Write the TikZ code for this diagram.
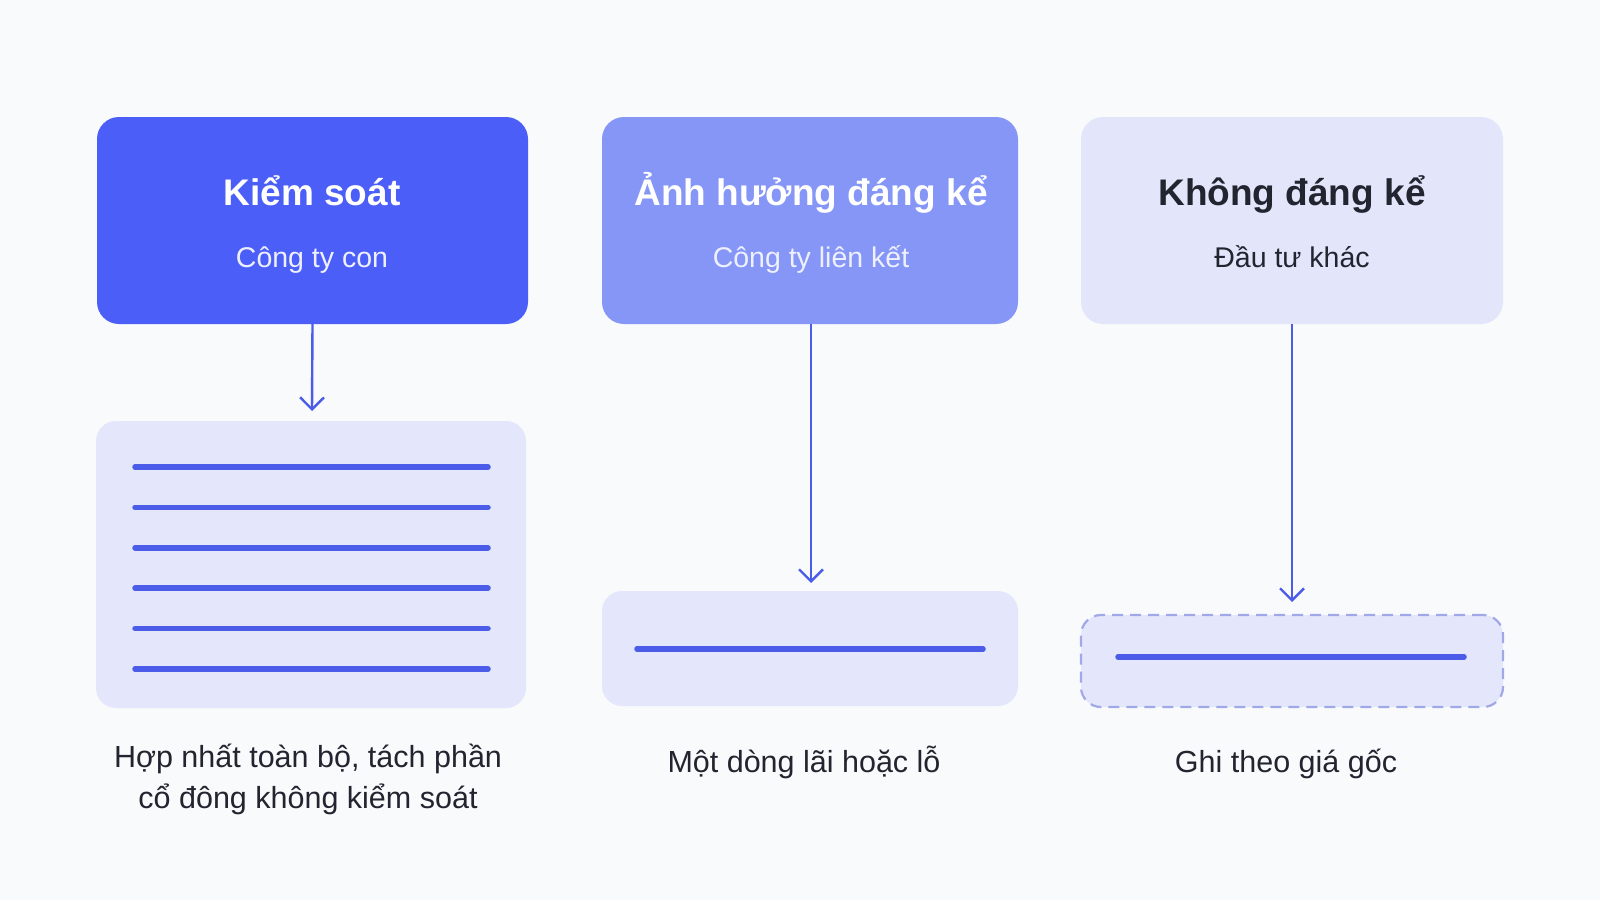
\documentclass[tikz,border=0pt]{standalone}
\usepackage{fontspec}
\setmainfont{Liberation Sans}
\usetikzlibrary{arrows.meta}
\definecolor{bg}{HTML}{F9FAFC}
\definecolor{cone}{HTML}{4B5FF8}
\definecolor{ctwo}{HTML}{8596F6}
\definecolor{cthree}{HTML}{E3E6FB}
\definecolor{pale}{HTML}{E4E7FB}
\definecolor{linec}{HTML}{4A5CE8}
\definecolor{dashc}{HTML}{A0A8E8}
\definecolor{ink}{HTML}{22252F}
\definecolor{subw}{HTML}{EEF0FF}
\begin{document}
\begin{tikzpicture}[x=1pt,y=-1pt,
  topbox/.style={rounded corners=22pt, minimum height=207pt, inner sep=0pt, draw=none},
  botbox/.style={rounded corners=20pt, inner sep=0pt, fill=pale, draw=none},
  titletxt/.style={anchor=base, inner sep=0pt, font=\fontsize{37}{44}\selectfont\bfseries},
  subtxt/.style={anchor=base, inner sep=0pt, font=\fontsize{28.5}{34}\selectfont},
  captxt/.style={inner sep=0pt, font=\fontsize{30.5}{41}\selectfont, text=ink, align=center},
  bar/.style={line width=5.5pt, line cap=round, draw=linec},
  flow/.style={line width=2.4pt, draw=linec, -{Straight Barb[length=12pt, width=24pt, line width=2.4pt]}}
]
\useasboundingbox[fill=bg] (0,0) rectangle (1600,900);

% top boxes
\node[topbox, fill=cone, minimum width=431pt] (k1) at (312.5,220.5) {};
\node[topbox, fill=ctwo, minimum width=416pt] (k2) at (810,220.5) {};
\node[topbox, fill=cthree, minimum width=422pt] (k3) at (1292,220.5) {};

\node[titletxt, text=white] (t1) at (312,205) {Kiểm soát};
\node[subtxt, text=subw] (s1) at (312,267) {Công ty con};
\node[titletxt, text=white] (t2) at (811,205) {Ảnh hưởng đáng kể};
\node[subtxt, text=subw] (s2) at (811,267) {Công ty liên kết};
\node[titletxt, text=ink] (t3) at (1292,205) {Không đáng kể};
\node[subtxt, text=ink] (s3) at (1292,267) {Đầu tư khác};

% bottom boxes
\node[botbox, minimum width=430pt, minimum height=287pt] (b1) at (311,564.5) {};
\node[botbox, minimum width=416pt, minimum height=115pt] (b2) at (810,648.5) {};
\node[botbox, minimum width=422pt, minimum height=92pt, draw=dashc, line width=2.2pt, dash pattern=on 11pt off 7pt] (b3) at (1292,661) {};

% bars
\foreach \i in {0,...,5} {
  \draw[bar] (135,467+40.4*\i) -- (488,467+40.4*\i);
}
\draw[bar] (637,649) -- (983,649);
\draw[bar] (1118,657) -- (1464,657);

% arrows
\coordinate (a1) at (312,411);
\coordinate (a2) at (811,583);
\coordinate (a3) at (1292,602);
\draw[flow] (k1.south) -- (a1);
\draw[flow] (k2.south -| a2) -- (a2);
\draw[flow] (k3.south) -- (a3);

% captions
\node[captxt, anchor=base] (c1) at (308,808.5) {Hợp nhất toàn bộ, tách phần\\cổ đông không kiểm soát};
\node[captxt, anchor=base] (c2) at (804,772.5) {Một dòng lãi hoặc lỗ};
\node[captxt, anchor=base] (c3) at (1286,772.5) {Ghi theo giá gốc};
\end{tikzpicture}
\end{document}
